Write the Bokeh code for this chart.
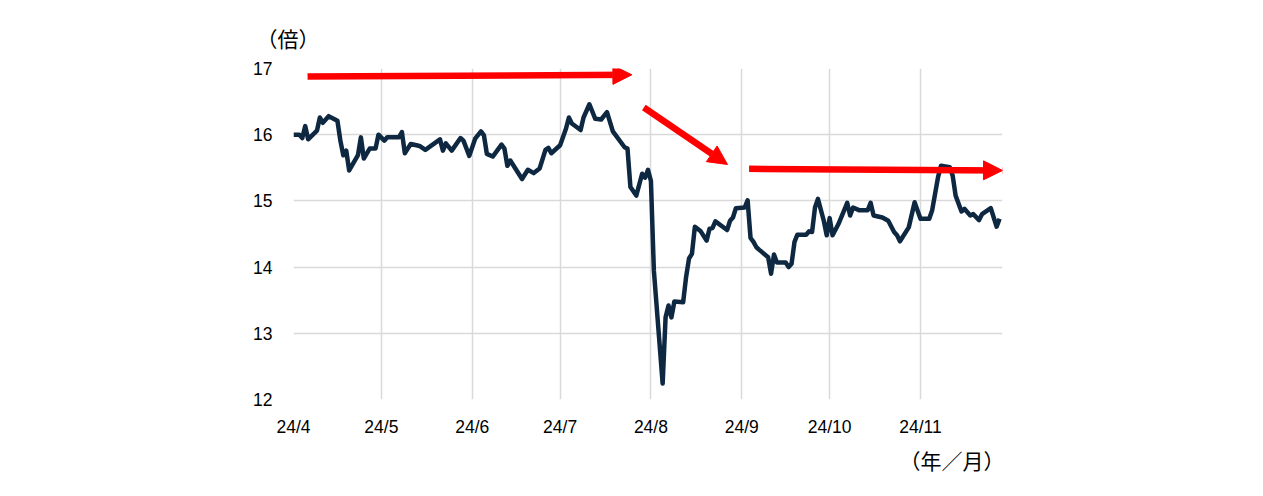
import pandas as pd
from bokeh.plotting import figure
from bokeh.models import (Range1d, FixedTicker, CustomJSTickFormatter, Arrow, NormalHead, Title)
from bokeh.embed import file_html
from bokeh.resources import INLINE

dates = [
 "2024-04-01","2024-04-03","2024-04-04","2024-04-05","2024-04-06","2024-04-09","2024-04-10","2024-04-11",
 "2024-04-13","2024-04-16","2024-04-17","2024-04-18","2024-04-19","2024-04-20","2024-04-23","2024-04-24",
 "2024-04-25","2024-04-27","2024-04-29","2024-04-30","2024-05-02","2024-05-03","2024-05-07","2024-05-08",
 "2024-05-09","2024-05-10","2024-05-11","2024-05-13","2024-05-14","2024-05-16","2024-05-21","2024-05-22",
 "2024-05-23","2024-05-25","2024-05-28","2024-05-29","2024-05-31","2024-06-02","2024-06-04","2024-06-05",
 "2024-06-06","2024-06-08","2024-06-11","2024-06-12","2024-06-13","2024-06-14","2024-06-18","2024-06-20",
 "2024-06-22","2024-06-24","2024-06-26","2024-06-27","2024-06-28","2024-07-01","2024-07-03","2024-07-04",
 "2024-07-05","2024-07-08","2024-07-09","2024-07-11","2024-07-13","2024-07-15","2024-07-17","2024-07-19",
 "2024-07-23","2024-07-24","2024-07-25","2024-07-27","2024-07-29","2024-07-30","2024-07-31","2024-08-01",
 "2024-08-02","2024-08-05","2024-08-06","2024-08-07","2024-08-08","2024-08-09","2024-08-12","2024-08-13",
 "2024-08-14","2024-08-15","2024-08-16","2024-08-18","2024-08-20","2024-08-21","2024-08-22","2024-08-23",
 "2024-08-27","2024-08-28","2024-08-29","2024-08-30","2024-09-02","2024-09-03","2024-09-04","2024-09-05",
 "2024-09-06","2024-09-07","2024-09-10","2024-09-11","2024-09-12","2024-09-13","2024-09-16","2024-09-17",
 "2024-09-18","2024-09-19","2024-09-20","2024-09-23","2024-09-24","2024-09-25","2024-09-26","2024-09-27",
 "2024-09-29","2024-09-30","2024-10-01","2024-10-02","2024-10-04","2024-10-07","2024-10-08","2024-10-09",
 "2024-10-11","2024-10-14","2024-10-15","2024-10-16","2024-10-19","2024-10-21","2024-10-23","2024-10-24",
 "2024-10-25","2024-10-28","2024-10-30","2024-11-01","2024-11-04","2024-11-05","2024-11-07","2024-11-08",
 "2024-11-11","2024-11-12","2024-11-13","2024-11-15","2024-11-16","2024-11-18","2024-11-19","2024-11-21",
 "2024-11-22","2024-11-25","2024-11-27","2024-11-28",
]
per = [
 16.00,16.00,15.95,16.13,15.93,16.06,16.26,16.18,
 16.28,16.21,15.91,15.69,15.76,15.46,15.69,15.96,
 15.64,15.79,15.79,16.00,15.91,15.96,15.96,16.04,
 15.72,15.79,15.86,15.84,15.83,15.77,15.93,15.76,
 15.87,15.76,15.95,15.91,15.68,15.94,16.05,15.99,
 15.71,15.67,15.85,15.79,15.53,15.61,15.33,15.47,
 15.42,15.49,15.77,15.80,15.72,15.84,16.09,16.26,
 16.17,16.07,16.26,16.46,16.24,16.23,16.34,16.05,
 15.81,15.79,15.21,15.08,15.41,15.35,15.47,15.30,
 13.95,12.24,13.24,13.42,13.24,13.48,13.47,13.85,
 14.13,14.20,14.61,14.54,14.40,14.58,14.59,14.69,
 14.56,14.70,14.75,14.89,14.90,15.01,14.44,14.38,
 14.30,14.26,14.15,13.90,14.19,14.07,14.07,14.00,
 14.05,14.38,14.49,14.49,14.54,14.53,14.90,15.03,
 14.70,14.48,14.74,14.48,14.65,14.97,14.78,14.90,
 14.86,14.86,14.97,14.78,14.75,14.70,14.53,14.48,
 14.39,14.60,14.98,14.73,14.73,14.86,15.36,15.53,
 15.51,15.38,15.08,14.84,14.88,14.78,14.80,14.71,
 14.80,14.89,14.61,14.73,
]
month_ticks = ["2024-04-01","2024-05-01","2024-06-01","2024-07-01","2024-08-01","2024-09-01","2024-10-01","2024-11-01"]
y_ticks = [12, 13, 14, 15, 16, 17]

# trend arrows (annotations)
arrow_x0 = ["2024-04-05 19:00", "2024-07-29 14:00", "2024-09-03 12:00"]
arrow_y0 = [16.88, 16.41, 15.485]
arrow_x1 = ["2024-07-25 12:00", "2024-08-27 03:00", "2024-11-29 00:00"]
arrow_y1 = [16.905, 15.55, 15.46]

def ms(s):
    return pd.Timestamp(s).value / 1e6

x = pd.to_datetime(dates)

p = figure(width=1255, height=488, x_axis_type="datetime", output_backend="svg",
           toolbar_location=None,
           x_range=Range1d(ms("2024-04-01"), ms("2024-11-29 00:00")),
           y_range=Range1d(12, 17),
           min_border_left=293, min_border_right=253, min_border_top=68, min_border_bottom=89)
p.outline_line_color = None
p.background_fill_color = "white"
p.border_fill_color = "white"

for ax in (p.xaxis[0], p.yaxis[0]):
    ax.axis_line_color = None
    ax.major_tick_line_color = None
    ax.minor_tick_line_color = None
    ax.major_label_text_font = "Liberation Sans"
    ax.major_label_text_font_size = "17.5px"
    ax.major_label_text_color = "#000000"

p.xaxis[0].ticker = FixedTicker(ticks=[ms(t) for t in month_ticks])
p.xaxis[0].formatter = CustomJSTickFormatter(code="""
const d = new Date(tick);
return (d.getUTCFullYear() % 100) + '/' + (d.getUTCMonth() + 1);
""")
p.xaxis[0].major_label_standoff = 11
p.yaxis[0].ticker = FixedTicker(ticks=y_ticks)
p.yaxis[0].major_label_standoff = 15

p.xgrid.grid_line_color = "#d9d9d9"
p.ygrid.grid_line_color = "#d9d9d9"
p.xgrid.grid_line_width = 1.5
p.ygrid.grid_line_width = 1.5

p.line(x, per, line_width=4.5, line_color="#0E2841", line_join="round")

for xs, ys, xe, ye in zip(arrow_x0, arrow_y0, arrow_x1, arrow_y1):
    p.add_layout(Arrow(end=NormalHead(size=19, fill_color="#ff0000", line_color="#ff0000", line_width=1),
                       x_start=ms(xs), y_start=ys, x_end=ms(xe), y_end=ye,
                       line_color="#ff0000", line_width=6.5))

p.add_layout(Title(text="（倍）", align="left", offset=-37, standoff=31,
                   text_font="Noto Sans CJK JP", text_font_size="21px",
                   text_font_style="normal", text_color="#000000"), "above")
p.add_layout(Title(text="（年／月）", align="right", offset=-2, standoff=7,
                   text_font="Noto Sans CJK JP", text_font_size="21px",
                   text_font_style="normal", text_color="#000000"), "below")

open("out.html", "w").write(file_html(p, INLINE))
